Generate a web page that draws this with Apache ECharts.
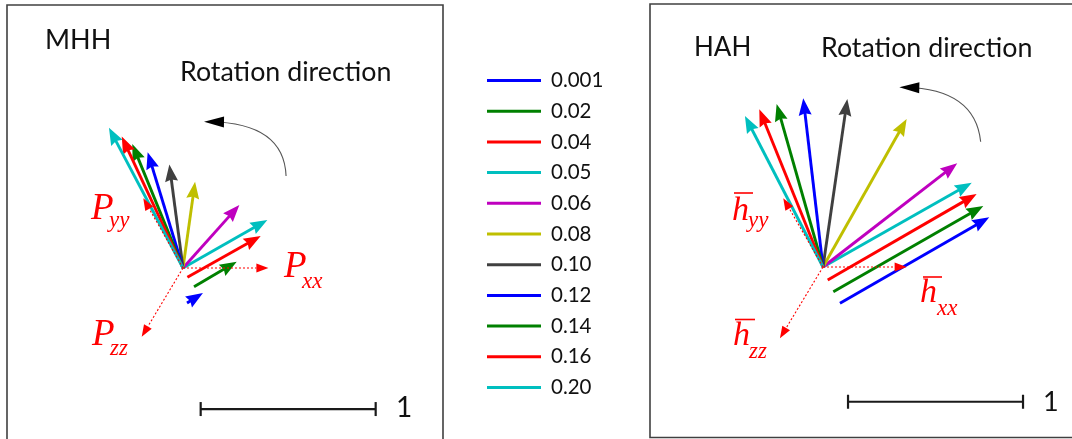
<!DOCTYPE html>
<html>
<head>
<meta charset="utf-8">
<script src="https://cdn.jsdelivr.net/npm/echarts@6/dist/echarts.min.js"></script>
<style>
html,body{margin:0;padding:0;background:#fff;}
#chart{width:1072px;height:439px;}
</style>
</head>
<body>
<div id="chart"></div>
<script>
// Parameter values shown in the legend and their line colours
const paramLabels = ['0.001', '0.02', '0.04', '0.05', '0.06', '0.08', '0.10', '0.12', '0.14', '0.16', '0.20'];
const paramColors = ['#0000ff', '#008000', '#ff0000', '#00bfbf', '#bf00bf', '#bfbf00', '#404040', '#0000ff', '#008000', '#ff0000', '#00bfbf'];

// MHH principal vectors, one per parameter: [tailX, tailY, tipX, tipY] (unit length = scale bar)
const mhhVectors = [
  [0.023, -0.200, 0.114, -0.143],
  [0.063, -0.107, 0.307, 0.036],
  [0.025, -0.053, 0.444, 0.183],
  [0, 0, 0.482, 0.274],
  [0, 0, 0.322, 0.360],
  [0, 0, 0.069, 0.493],
  [0, 0, -0.078, 0.591],
  [0, 0, -0.202, 0.662],
  [0, 0, -0.290, 0.709],
  [0, 0, -0.350, 0.751],
  [0, 0, -0.423, 0.801]
];

// HAH principal vectors, one per parameter
const hahVectors = [
  [0.097, -0.207, 0.950, 0.284],
  [0.059, -0.141, 0.916, 0.349],
  [0.027, -0.074, 0.878, 0.417],
  [0, 0, 0.850, 0.482],
  [0, 0, 0.767, 0.593],
  [0, 0, 0.478, 0.846],
  [0, 0, 0.139, 0.960],
  [0, 0, -0.113, 0.964],
  [0, 0, -0.265, 0.931],
  [0, 0, -0.364, 0.901],
  [0, 0, -0.446, 0.863]
];

// Reference axes (xx, yy, zz) drawn dotted from the origin
const mhhAxes = [[0.488, 0], [-0.227, 0.398], [-0.236, -0.393]];
const hahAxes = [[0.478, 0], [-0.227, 0.393], [-0.246, -0.407]];

// Rotation-direction arcs: [startX, startY, ctrlX, ctrlY, tipX, tipY]
const mhhArc = [0.589, 0.526, 0.577, 0.829, 0.120, 0.836];
const hahArc = [0.901, 0.716, 0.869, 1.017, 0.436, 1.027];

// Scale bars of length 1: [x0, y]
const mhhScale = [0.101, -0.806];
const hahScale = [0.143, -0.770];

// ---- layout (pixels) ----
const PX_PER_UNIT = 175;
const panels = [
  { left: 7, top: 5, width: 436, height: 445, ox: 183, oy: 268 },
  { left: 650, top: 4, width: 440, height: 433.5, ox: 823, oy: 267 }
];

function axisRange(p) {
  return {
    xMin: (p.left - p.ox) / PX_PER_UNIT,
    xMax: (p.left + p.width - p.ox) / PX_PER_UNIT,
    yMin: (p.oy - p.top - p.height) / PX_PER_UNIT,
    yMax: (p.oy - p.top) / PX_PER_UNIT
  };
}

const grids = panels.map(p => ({
  left: p.left, top: p.top, width: p.width, height: p.height,
  outerBoundsMode: 'none', containLabel: false,
  show: true, borderColor: '#404040', borderWidth: 1.6, backgroundColor: 'transparent'
}));
const xAxes = panels.map((p, i) => {
  const r = axisRange(p);
  return { type: 'value', gridIndex: i, min: r.xMin, max: r.xMax, show: false };
});
const yAxes = panels.map((p, i) => {
  const r = axisRange(p);
  return { type: 'value', gridIndex: i, min: r.yMin, max: r.yMax, show: false };
});

// arrow: straight shaft plus filled head
function arrow(a, b, color, o) {
  const dx = b[0] - a[0], dy = b[1] - a[1];
  const len = Math.hypot(dx, dy) || 1;
  const ux = dx / len, uy = dy / len, nx = -uy, ny = ux;
  const L = Math.min(o.head, len), W = o.headWidth / 2;
  const bx = b[0] - ux * L, by = b[1] - uy * L;
  const kx = b[0] - ux * (L - o.notch), ky = b[1] - uy * (L - o.notch);
  const shaftEnd = o.dash ? [bx, by] : [b[0] - ux * L * 0.6, b[1] - uy * L * 0.6];
  const children = [];
  if (len > L) {
    children.push({
      type: 'line',
      shape: { x1: a[0], y1: a[1], x2: shaftEnd[0], y2: shaftEnd[1] },
      style: { stroke: color, lineWidth: o.lineWidth, lineDash: o.dash || null, fill: null }
    });
  }
  children.push({
    type: 'polygon',
    shape: { points: [[b[0], b[1]], [bx + nx * W, by + ny * W], [kx, ky], [bx - nx * W, by - ny * W]] },
    style: { fill: color, stroke: null }
  });
  return { type: 'group', children };
}

const series = [];

function vectorSeries(gi, vectors) {
  vectors.forEach((v, i) => {
    series.push({
      type: 'custom', name: paramLabels[i], coordinateSystem: 'cartesian2d',
      xAxisIndex: gi, yAxisIndex: gi, silent: true, animation: false,
      itemStyle: { color: paramColors[i] },
      encode: { x: [0, 2], y: [1, 3] },
      data: [v],
      renderItem: (params, api) => arrow(
        api.coord([api.value(0), api.value(1)]),
        api.coord([api.value(2), api.value(3)]),
        paramColors[i], { head: 17, headWidth: 13, notch: 2, lineWidth: 2.9 })
    });
  });
}

function refAxesSeries(gi, axes) {
  series.push({
    type: 'custom', coordinateSystem: 'cartesian2d', xAxisIndex: gi, yAxisIndex: gi,
    silent: true, animation: false, encode: { x: 0, y: 1 },
    data: axes,
    renderItem: (params, api) => arrow(
      api.coord([0, 0]), api.coord([api.value(0), api.value(1)]),
      '#ff0000', { head: 12, headWidth: 9, notch: 0, lineWidth: 1.1, dash: [2, 2] })
  });
}

function arcSeries(gi, arc) {
  series.push({
    type: 'custom', coordinateSystem: 'cartesian2d', xAxisIndex: gi, yAxisIndex: gi,
    silent: true, animation: false, encode: { x: [0, 2, 4], y: [1, 3, 5] },
    data: [arc],
    renderItem: (params, api) => {
      const s = api.coord([api.value(0), api.value(1)]);
      const c = api.coord([api.value(2), api.value(3)]);
      const t = api.coord([api.value(4), api.value(5)]);
      const head = arrow(c, t, '#000000', { head: 20, headWidth: 11, notch: 0, lineWidth: 0 });
      head.children = head.children.filter(ch => ch.type === 'polygon');
      return {
        type: 'group', children: [
          { type: 'bezierCurve', shape: { x1: s[0], y1: s[1], cpx1: c[0], cpy1: c[1], x2: t[0] + 6, y2: t[1] },
            style: { stroke: '#555555', lineWidth: 1.1, fill: null } },
          head
        ]
      };
    }
  });
}

function scaleSeries(gi, sc) {
  series.push({
    type: 'custom', coordinateSystem: 'cartesian2d', xAxisIndex: gi, yAxisIndex: gi,
    silent: true, animation: false, encode: { x: 0, y: 1 },
    data: [sc],
    renderItem: (params, api) => {
      const a = api.coord([api.value(0), api.value(1)]);
      const b = api.coord([api.value(0) + 1, api.value(1)]);
      const st = { stroke: '#1a1a1a', lineWidth: 2.2 };
      return {
        type: 'group', children: [
          { type: 'line', shape: { x1: a[0], y1: a[1], x2: b[0], y2: b[1] }, style: st },
          { type: 'line', shape: { x1: a[0], y1: a[1] - 7, x2: a[0], y2: a[1] + 7 }, style: st },
          { type: 'line', shape: { x1: b[0], y1: b[1] - 7, x2: b[0], y2: b[1] + 7 }, style: st }
        ]
      };
    }
  });
}

vectorSeries(0, mhhVectors);
vectorSeries(1, hahVectors);
refAxesSeries(0, mhhAxes);
refAxesSeries(1, hahAxes);
arcSeries(0, mhhArc);
arcSeries(1, hahArc);
scaleSeries(0, mhhScale);
scaleSeries(1, hahScale);

// ---- text annotations ----
const SANS = 'Lato, "Open Sans", sans-serif';
const SERIF = '"Liberation Serif", "DejaVu Serif", serif';
function sansText(text, x, baseline, size) {
  return { type: 'text', x: x, y: baseline - 0.37 * size, silent: true,
    style: { text, font: size + 'px ' + SANS, fill: '#111111', align: 'left', verticalAlign: 'middle',
      textAlign: 'left', textVerticalAlign: 'middle' } };
}
function italText(text, x, baseline, size) {
  return { type: 'text', x: x, y: baseline - 0.34 * size, silent: true,
    style: { text, font: 'italic ' + size + 'px ' + SERIF, fill: '#ff0000', align: 'left', verticalAlign: 'middle',
      textAlign: 'left', textVerticalAlign: 'middle' } };
}
function overbar(x1, x2, y) {
  return { type: 'line', silent: true, shape: { x1, y1: y, x2, y2: y }, style: { stroke: '#ff0000', lineWidth: 1.6 } };
}

const graphic = [
  sansText('MHH', 45, 50, 27),
  sansText('Rotation direction', 180, 82, 26.8),
  sansText('HAH', 694, 57, 26),
  sansText('Rotation direction', 821, 58.5, 26.8),
  sansText('1', 396, 418, 28),
  sansText('1', 1043, 412, 27),
  italText('P', 91, 222, 37), italText('yy', 109, 229, 23),
  italText('P', 284, 280, 37), italText('xx', 302, 290, 23),
  italText('P', 92, 348, 37), italText('zz', 110, 357, 23),
  italText('h', 732, 223, 34), italText('yy', 748, 229, 23), overbar(734, 753, 193),
  italText('h', 920, 305, 34), italText('xx', 937, 316.5, 23), overbar(923, 942, 277),
  italText('h', 733, 348, 34), italText('zz', 749, 360, 23), overbar(735, 755, 319.5)
];

const chart = echarts.init(document.getElementById('chart'), null, { renderer: 'canvas' });
chart.setOption({
  backgroundColor: '#ffffff',
  animation: false,
  grid: grids,
  xAxis: xAxes,
  yAxis: yAxes,
  legend: {
    orient: 'vertical', left: 487, top: 70, padding: 0,
    itemWidth: 54, itemHeight: 3, itemGap: 9.7,
    selectedMode: false,
    textStyle: { fontFamily: SANS, fontSize: 20.5, color: '#111111', padding: [0, 0, 0, 5] },
    data: paramLabels.map((p, i) => ({ name: p, icon: 'rect', itemStyle: { color: paramColors[i] } }))
  },
  series: series,
  graphic: graphic
});
</script>
</body>
</html>
